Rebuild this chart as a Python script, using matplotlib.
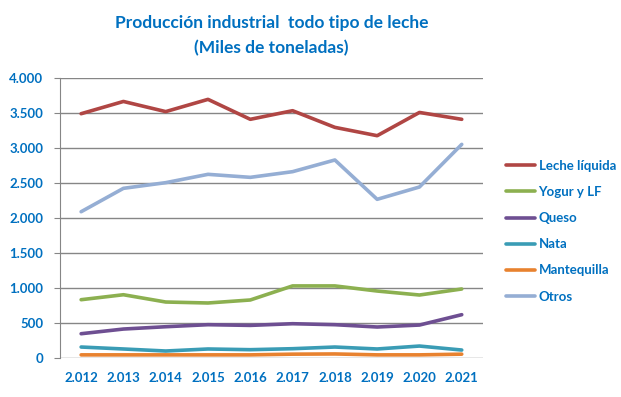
import matplotlib
matplotlib.use("Agg")
import matplotlib.pyplot as plt

years = ["2.012", "2.013", "2.014", "2.015", "2.016", "2.017", "2.018", "2.019", "2.020", "2.021"]
leche = [3490, 3665, 3520, 3695, 3410, 3533, 3295, 3176, 3508, 3410]
yogur = [833, 904, 800, 786, 829, 1030, 1030, 957, 900, 986]
queso = [347, 414, 447, 476, 466, 490, 476, 443, 471, 619]
nata = [157, 129, 100, 129, 119, 133, 157, 129, 171, 114]
mantequilla = [45, 45, 45, 45, 45, 55, 58, 45, 45, 55]
otros = [2090, 2424, 2505, 2624, 2581, 2662, 2829, 2267, 2443, 3052]

names = ["Leche líquida", "Yogur y LF", "Queso", "Nata", "Mantequilla", "Otros"]
series = [leche, yogur, queso, nata, mantequilla, otros]
colors = ["#B04644", "#8CB050", "#6E4F92", "#3A9CB5", "#E8822F", "#95AED4"]

txt = "#0070C0"
plt.rcParams["font.family"] = ["Lato", "DejaVu Sans"]


def miles(v):
    # formato español: punto como separador de miles
    return f"{v:,}".replace(",", ".")


fig = plt.figure(figsize=(6.21, 3.97), dpi=100)
ax = fig.add_axes([0.0966, 0.0982, 0.681, 0.7053])

x = range(len(years))
for vals, name, c in zip(series, names, colors):
    ax.plot(x, vals, color=c, lw=2.6, label=name, solid_capstyle="round")

yt = list(range(0, 4001, 500))
ax.set_xlim(-0.5, len(years) - 0.5)
ax.set_ylim(0, 4000)
ax.set_yticks(yt)
ax.set_yticklabels([miles(v) for v in yt])
ax.set_xticks(list(x))
ax.set_xticklabels(years)
ax.grid(axis="y", color="#868686", lw=1)
ax.set_axisbelow(True)
for s in ["top", "right", "bottom"]:
    ax.spines[s].set_visible(False)
ax.spines["left"].set_color("#868686")
ax.tick_params(axis="x", length=0, pad=10)
ax.tick_params(axis="y", length=4, color="#868686", pad=8)
for t in ax.get_xticklabels() + ax.get_yticklabels():
    t.set_color(txt)
    t.set_fontweight("bold")
    t.set_fontsize(9.5)

fig.text(0.437, 0.942, "Producción industrial  todo tipo de leche", ha="center", va="center",
         color=txt, fontsize=12.5, fontweight="bold")
fig.text(0.437, 0.879, "(Miles de toneladas)", ha="center", va="center",
         color=txt, fontsize=12.5, fontweight="bold")

leg = fig.legend(loc="upper left", bbox_to_anchor=(0.795, 0.627), frameon=False,
                 handlelength=2.2, handletextpad=0.3, labelspacing=1.07, fontsize=9.5)
for t in leg.get_texts():
    t.set_color(txt)
    t.set_fontweight("bold")

fig.savefig("out.png", dpi=100)
